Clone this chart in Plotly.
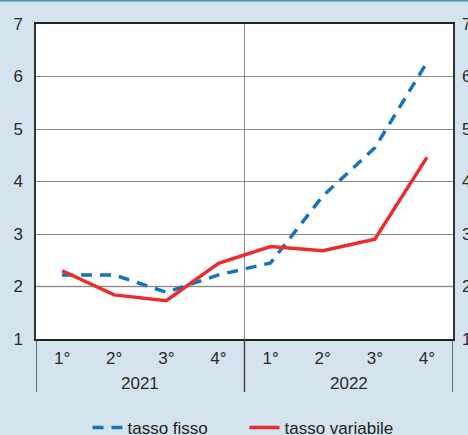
import plotly.graph_objects as go

quarters = ["1°", "2°", "3°", "4°", "1°", "2°", "3°", "4°"]
years = ["2021", "2022"]
tasso_fisso = [2.22, 2.22, 1.89, 2.22, 2.45, 3.72, 4.64, 6.27]
tasso_variabile = [2.30, 1.84, 1.73, 2.44, 2.76, 2.68, 2.90, 4.46]
y_ticks = [1, 2, 3, 4, 5, 6, 7]

x = list(range(len(quarters)))
W, H = 468, 435
ml, mr, mt, mb = 36, 15, 24, 96
ph = H - mt - mb

def py(pix):
    return (H - mb - pix) / ph

fig = go.Figure()
fig.add_trace(go.Scatter(x=x, y=tasso_fisso, mode="lines", name="tasso fisso",
                         line=dict(color="#1673bf", width=3.5, dash="11px,8px")))
fig.add_trace(go.Scatter(x=x, y=tasso_variabile, mode="lines", name="tasso variabile",
                         line=dict(color="#ec2c2c", width=3.5)))
fig.add_trace(go.Scatter(x=[None], y=[None], yaxis="y2", showlegend=False))

font = dict(family="Liberation Sans, Arial, sans-serif", size=17, color="#2a2a2a")
fig.update_layout(
    width=W, height=H, margin=dict(l=ml, r=mr, t=mt, b=mb, autoexpand=False),
    paper_bgcolor="#d3e4ee", plot_bgcolor="white", font=font,
    xaxis=dict(range=[-0.5, 7.5], tickvals=x, ticktext=quarters, showgrid=False,
               showline=True, linecolor="#222", linewidth=1.5, mirror=True,
               ticks="", ticklabelstandoff=3, zeroline=False, automargin=False),
    yaxis=dict(range=[1, 7], tickvals=y_ticks, showgrid=True, gridcolor="#8c8c8c",
               gridwidth=1, showline=True, linecolor="#333", linewidth=1.5, mirror=True,
               ticks="", ticklabelstandoff=8, zeroline=False, automargin=False),
    yaxis2=dict(range=[1, 7], tickvals=y_ticks, overlaying="y", side="right",
                showgrid=False, ticks="", ticklabelstandoff=8, zeroline=False,
                automargin=False),
    legend=dict(orientation="h", x=0.5, xanchor="center", xref="paper",
                y=1 - 428 / H, yref="container", yanchor="middle",
                entrywidth=112, entrywidthmode="pixels",
                font=dict(size=17, color="#222"),
                bgcolor="rgba(0,0,0,0)", traceorder="normal"),
    showlegend=True,
)

shapes = []
shapes.append(dict(type="line", xref="paper", x0=0, x1=1, yref="y", y0=2, y1=2,
                   line=dict(color="#d2d2d2", width=2), layer="between"))
shapes.append(dict(type="line", xref="x", x0=3.5, x1=3.5, yref="paper", y0=0, y1=1,
                   line=dict(color="#8c8c8c", width=1), layer="between"))
for xv in [-0.5, 3.5, 7.5]:
    shapes.append(dict(type="line", xref="x", x0=xv, x1=xv, yref="paper", y0=py(392), y1=0,
                       line=dict(color="#444", width=1.5)))
shapes.append(dict(type="line", xref="paper", x0=-ml / (W - ml - mr), x1=1 + mr / (W - ml - mr),
                   yref="paper", y0=py(0.5), y1=py(0.5), line=dict(color="#4a8fbd", width=2)))
fig.update_layout(shapes=shapes)

for i, yr in enumerate(years):
    fig.add_annotation(x=1.5 + 4 * i, y=py(383), xref="x", yref="paper", text=yr,
                       showarrow=False, font=font, yanchor="middle")

fig.write_html("out.html")
